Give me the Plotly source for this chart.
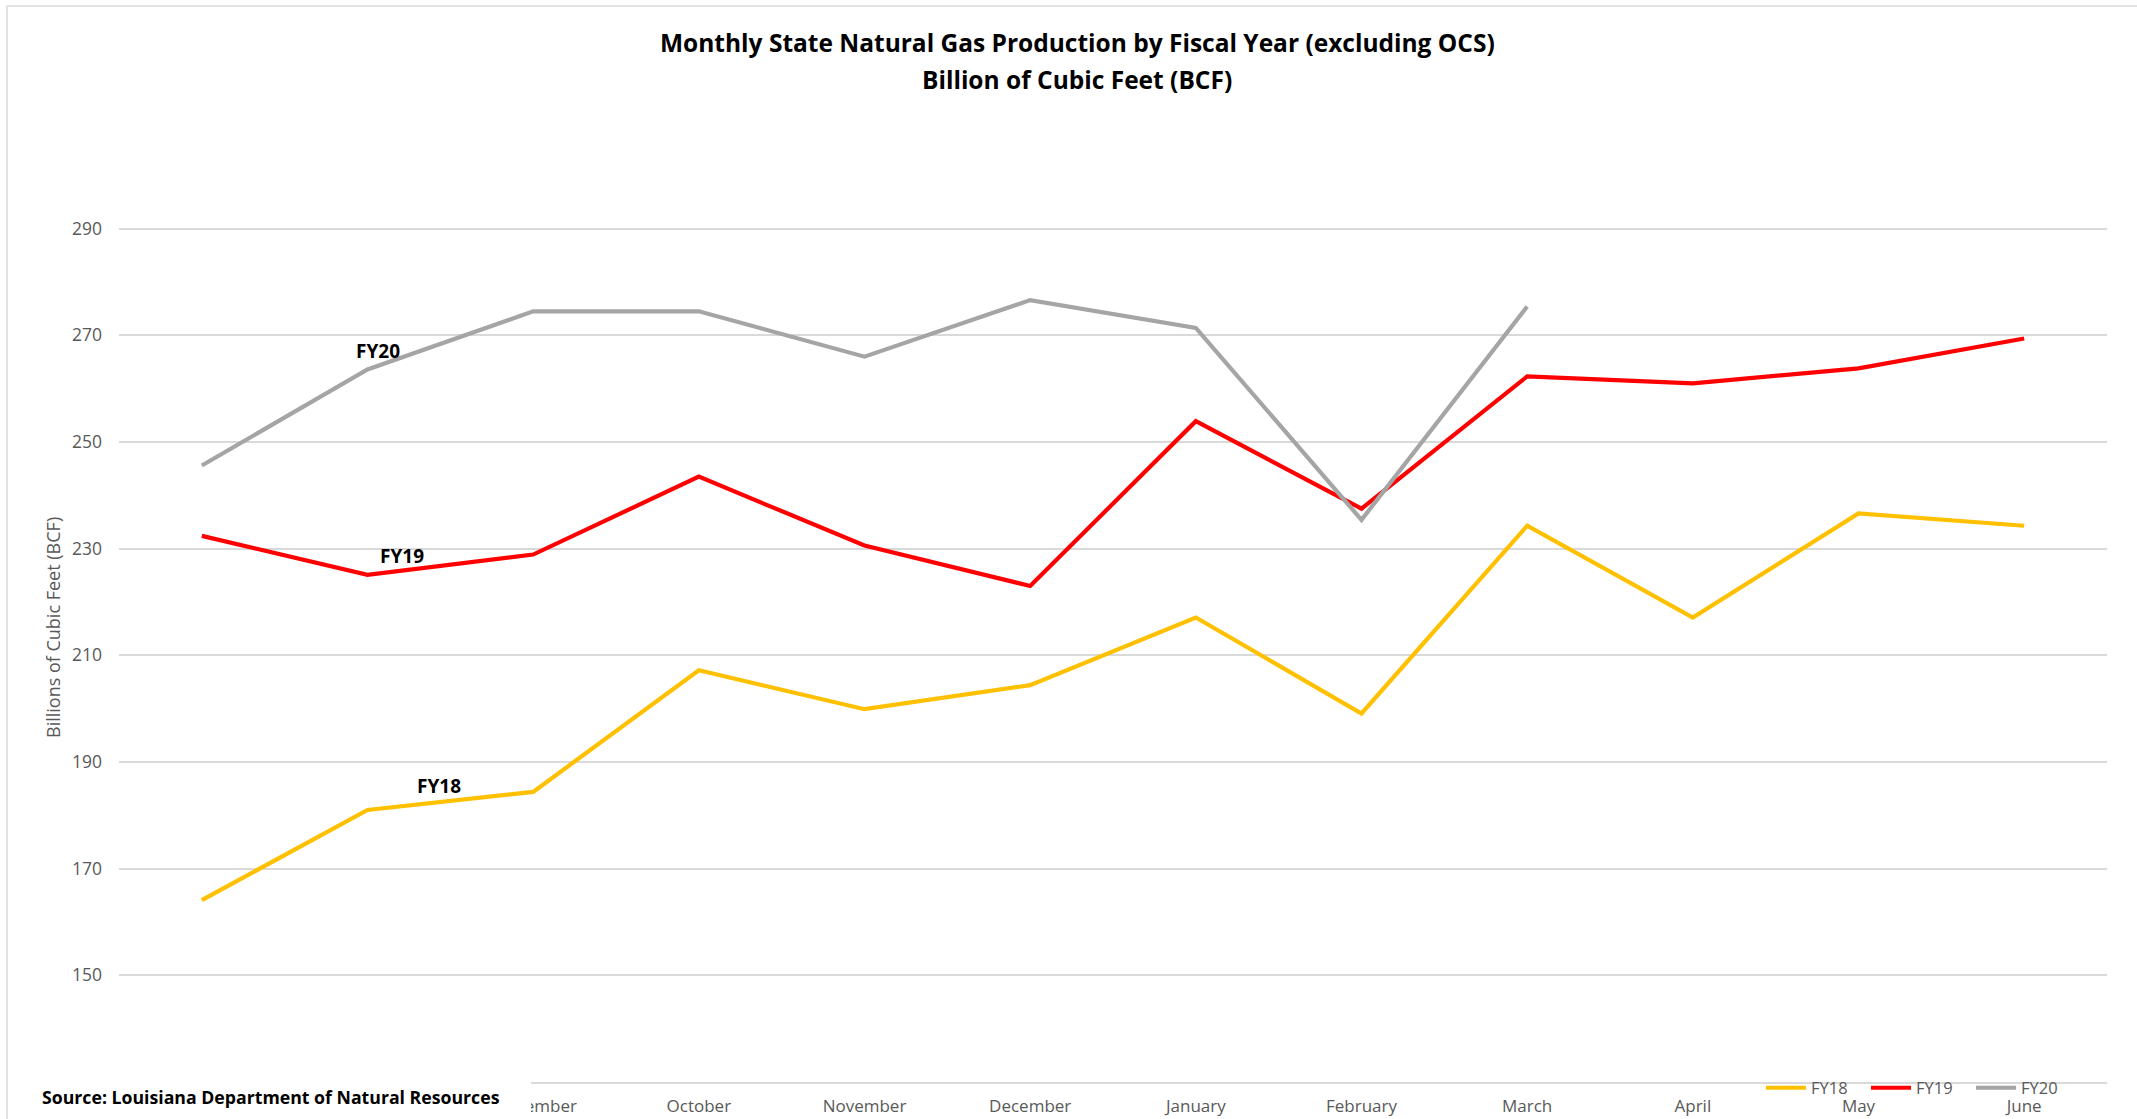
import plotly.graph_objects as go

months = ["July", "August", "September", "October", "November", "December",
          "January", "February", "March", "April", "May", "June"]
fy18 = [164.1, 181.0, 184.4, 207.2, 199.9, 204.4, 217.1, 199.1, 234.3, 217.1, 236.6, 234.3]
fy19 = [232.4, 225.1, 228.9, 243.5, 230.6, 223.0, 253.9, 237.5, 262.3, 261.0, 263.8, 269.4]
fy20 = [245.6, 263.6, 274.5, 274.5, 266.0, 276.6, 271.4, 235.4, 275.4]
y_ticks = [150, 170, 190, 210, 230, 250, 270, 290]

W, H = 2137, 1119
PL, PR, PT, PB = 119, 2107, 122, 1082   # plot area in page pixels
L, R, T, B = PL, W - PR, PT, H - PB
PW, PH = PR - PL, PB - PT

def px(x):
    return (x - PL) / PW

def py(y):
    return (PB - y) / PH

FONT = "Open Sans"
GREY = "#595959"

fig = go.Figure()
fig.add_trace(go.Scatter(x=months, y=fy18, name="FY18", mode="lines",
                         line=dict(color="#FFC000", width=4.2)))
fig.add_trace(go.Scatter(x=months, y=fy19, name="FY19", mode="lines",
                         line=dict(color="#FF0000", width=4.2)))
fig.add_trace(go.Scatter(x=months[:len(fy20)], y=fy20, name="FY20", mode="lines",
                         line=dict(color="#A5A5A5", width=4.2)))

annotations = [
    dict(text="<b>Monthly State Natural Gas Production by Fiscal Year (excluding OCS)</b>",
         xref="paper", yref="paper", x=px(1077), y=py(42), showarrow=False,
         xanchor="center", yanchor="middle", font=dict(family=FONT, size=24.5, color="black")),
    dict(text="<b>Billion of Cubic Feet (BCF)</b>",
         xref="paper", yref="paper", x=px(1077), y=py(79), showarrow=False,
         xanchor="center", yanchor="middle", font=dict(family=FONT, size=24.5, color="black")),
    dict(text="Billions of Cubic Feet (BCF)", textangle=-90,
         xref="paper", yref="paper", x=px(53), y=py(628), showarrow=False,
         xanchor="center", yanchor="middle", font=dict(family=FONT, size=18, color=GREY)),
    dict(text="<b>FY20</b>", xref="x", yref="y", x=1.061, y=267.0, showarrow=False,
         font=dict(family=FONT, size=19, color="black")),
    dict(text="<b>FY19</b>", xref="x", yref="y", x=1.209, y=228.7, showarrow=False,
         font=dict(family=FONT, size=19, color="black")),
    dict(text="<b>FY18</b>", xref="x", yref="y", x=1.432, y=185.5, showarrow=False,
         font=dict(family=FONT, size=19, color="black")),
    dict(text="<b>Source: Louisiana Department of Natural Resources</b>",
         xref="paper", yref="paper", x=px(40), y=py(1097), showarrow=False,
         xanchor="left", yanchor="middle", font=dict(family=FONT, size=17.7, color="black")),
]

shapes = [
    # white box behind the source note (covers left part of x axis)
    dict(type="rect", xref="paper", yref="paper", x0=px(9), x1=px(531), y0=py(1065), y1=py(1125),
         fillcolor="white", line=dict(width=0), layer="above"),
    # chart border (left and top)
    dict(type="line", xref="paper", yref="paper", x0=px(7), x1=px(7), y0=py(6), y1=py(1125),
         line=dict(color="#D9D9D9", width=1.5), layer="above"),
    dict(type="line", xref="paper", yref="paper", x0=px(7), x1=px(2140), y0=py(6), y1=py(6),
         line=dict(color="#D9D9D9", width=1.5), layer="above"),
]

fig.update_layout(
    width=W, height=H,
    margin=dict(l=L, r=R, t=T, b=B, autoexpand=False),
    paper_bgcolor="white", plot_bgcolor="white",
    font=dict(family=FONT, color=GREY),
    showlegend=True,
    legend=dict(orientation="h", x=px(1761), y=py(1088), xanchor="left", yanchor="middle",
                font=dict(family=FONT, size=16.5, color=GREY), bgcolor="rgba(0,0,0,0)",
                entrywidth=50, entrywidthmode="pixels", itemwidth=40,
                traceorder="normal"),
    annotations=annotations,
    shapes=shapes,
    xaxis=dict(type="category", categoryorder="array", categoryarray=months,
               range=[-0.5, 11.5], showgrid=False, showline=True, linecolor="#D9D9D9",
               linewidth=1.5, ticks="", tickfont=dict(family=FONT, size=17, color=GREY),
               ticklabelstandoff=8, zeroline=False, fixedrange=True),
    yaxis=dict(range=[130, 310], tickvals=y_ticks, showgrid=True, gridcolor="#D9D9D9",
               gridwidth=1.5, showline=False, zeroline=False, ticks="",
               tickfont=dict(family=FONT, size=17.5, color=GREY), ticklabelstandoff=16,
               fixedrange=True),
)

fig.write_html("out.html", config={"displayModeBar": False},
               post_script="document.body.style.margin='0';document.body.style.overflow='hidden';")
